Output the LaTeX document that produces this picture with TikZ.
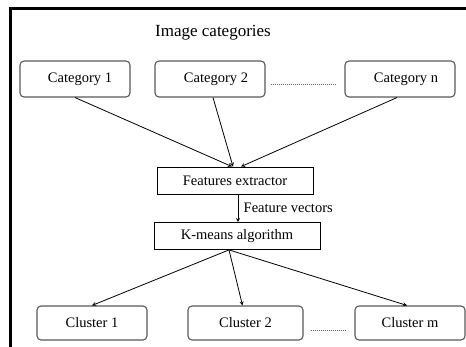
\documentclass[tikz,border=0pt]{standalone}
\usepackage{fontspec}
\setmainfont{Liberation Serif}
\usetikzlibrary{arrows}

\begin{document}
\begin{tikzpicture}[
        x = 1pt, y = -1pt,
        font = \fontsize{14.5}{17}\selectfont,
        cat/.style = {
            draw = black!65, line width = 1.1pt,
            rounded corners = 4pt,
            minimum width = 110pt,
            minimum height = 36pt,
            inner sep = 0pt,
        },
        proc/.style = {
            draw, line width = 0.8pt,
            minimum height = 27pt,
            inner sep = 0pt,
        },
        dots/.style = {
            draw = black!60, thin,
            dash pattern = on 0.8pt off 1.2pt,
        },
        link/.style = {
            -stealth, line width = 0.8pt,
        }
    ]
    \useasboundingbox (0,0) rectangle (466,347);
    \draw[line width=3pt] (10.5,347) -- (10.5,8.5) -- (466,8.5);

    \node (title) at (213,33) {\fontsize{17}{20}\selectfont Image categories};

    \node[cat] (cat1) at ( 75,79) {\hspace*{10pt}Category 1};
    \node[cat] (cat2) at (210,79) {\hspace*{12pt}Category 2};
    \node[cat] (catn) at (400,79) {\hspace*{12pt}Category n};

    \node[proc,minimum width=156pt] (feat)   at (235,180.5) {Features extractor};
    \node[proc,minimum width=166pt] (kmeans) at (237,236)   {K-means algorithm};

    \node[cat,minimum height=34pt]                    (cl1) at ( 92,323) {Cluster 1};
    \node[cat,minimum height=34pt,minimum width=115pt] (cl2) at (245.5,323) {Cluster 2};
    \node[cat,minimum height=34pt]                    (clm) at (410,323) {Cluster m};

    \path[dots] ([xshift=5pt,yshift=-5pt]cat2.east) -- ([xshift=-8pt,yshift=-5pt]catn.west);
    \path[dots] ([xshift=7pt,yshift=-7pt]cl2.east) -- ([xshift=-8pt,yshift=-7pt]clm.west);

    \path[link] (cat1.south) edge ([xshift=-3pt]feat.north);
    \path[link] ([xshift=3pt]cat2.south) edge ([xshift=-2pt]feat.north);
    \path[link] ([xshift=-3pt]catn.south) edge ([xshift=6pt]feat.north);

    \path[link] ([xshift=3pt]feat.south)
        edge node[right,xshift=2pt] {Feature vectors}
        ([xshift=3pt]feat.south |- kmeans.north);

    \path[link] ([xshift=-8pt]kmeans.south) edge (cl1.north);
    \path[link] ([xshift=-8pt]kmeans.south) edge ([xshift=-3pt]cl2.north);
    \path[link] ([xshift=-8pt]kmeans.south) edge ([xshift=-3pt]clm.north);
\end{tikzpicture}
\end{document}
